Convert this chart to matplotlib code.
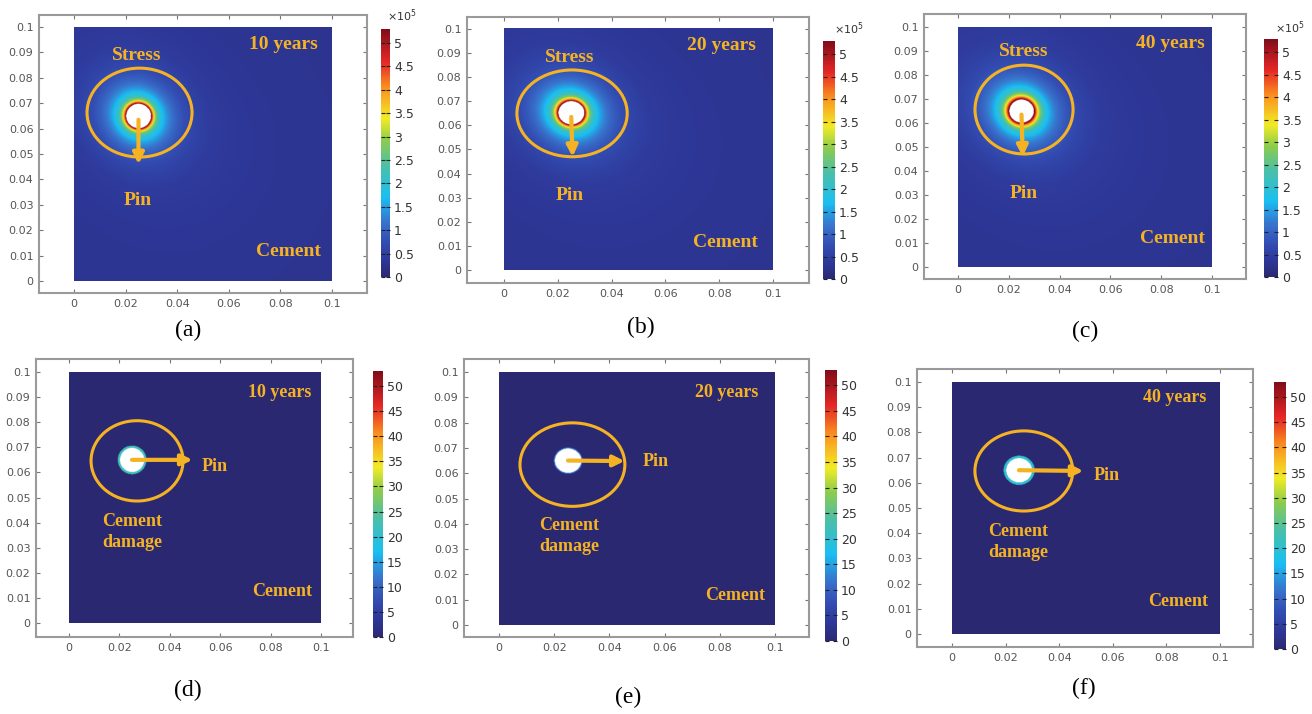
import numpy as np
import matplotlib
matplotlib.use("Agg")
import matplotlib.pyplot as plt
from matplotlib.colors import LinearSegmentedColormap
from matplotlib.patches import Ellipse

W, H = 1312, 714

# ---- data ----
years = ["10 years", "20 years", "40 years"]
tags = ["(a)", "(b)", "(c)", "(d)", "(e)", "(f)"]
pin_xy = (0.025, 0.065)
pin_r = 0.0048
ring_peak = [2.9, 2.9, 3.0]              # sharp ring at pin edge, x10^5
ring_decay = [0.0011, 0.0012, 0.0016]
halo_peak = [2.35, 2.35, 2.3]            # broader cyan halo, x10^5
halo_decay = [0.0065, 0.0068, 0.0072]
stress_glow = [0.45, 0.5, 0.55]          # far field glow, x10^5
stress_floor = 0.3
stress_vmax = 5.3
damage_ring = [22, 12, 20]
damage_width = [0.0009, 0.0004, 0.0010]
damage_vmax = 53
xticks = [0, 0.02, 0.04, 0.06, 0.08, 0.1]
yticks = [0, 0.01, 0.02, 0.03, 0.04, 0.05, 0.06, 0.07, 0.08, 0.09, 0.1]
stress_cticks = [0, 0.5, 1, 1.5, 2, 2.5, 3, 3.5, 4, 4.5, 5]
damage_cticks = [0, 5, 10, 15, 20, 25, 30, 35, 40, 45, 50]

# ---- layout in pixels ----
# frame (l, t, r, b), data box (x0, x1, ytop, ybottom), colorbar (l, t, r, b)
P = [
    dict(frame=(39, 15, 367, 293), data=(74, 332, 27, 281), cbar=(381, 29, 390, 277), tag=(188, 330), exp=(402, 16)),
    dict(frame=(467, 17, 809, 283), data=(504, 773, 29, 270), cbar=(823, 41, 835, 279), tag=(641, 327), exp=(849, 29)),
    dict(frame=(924, 14, 1246, 279), data=(958, 1212, 27, 267), cbar=(1264, 39, 1278, 277), tag=(1085, 331), exp=(1290, 28)),
    dict(frame=(36, 359, 353, 637), data=(69, 321, 372, 623), cbar=(373, 371, 383, 637), tag=(188, 690)),
    dict(frame=(464, 359, 809, 637), data=(499, 775, 372, 625), cbar=(825, 370, 837, 641), tag=(628, 697)),
    dict(frame=(917, 369, 1253, 647), data=(952, 1220, 382, 634), cbar=(1274, 382, 1286, 649), tag=(1084, 688)),
]

# annotations in data coords
year_pos = [(0.081, 0.093), (0.081, 0.093), (0.0835, 0.0933), (0.0837, 0.092), (0.0826, 0.0917), (0.0832, 0.0937)]
cement_pos = [(0.083, 0.0118), (0.0825, 0.0116), (0.0843, 0.012), (0.0845, 0.0127), (0.0855, 0.0115), (0.0843, 0.0127)]
stress_pos = [(0.0244, 0.0886), (0.0245, 0.088), (0.026, 0.090)]
pin_pos = [(0.0248, 0.0315), (0.0245, 0.031), (0.026, 0.0308), (0.058, 0.0625), (0.0569, 0.0648), (0.0578, 0.0627)]
damage_pos = [(0.025, 0.0362), (0.0254, 0.035), (0.0246, 0.0365)]
ell = [(0.0254, 0.0663, 0.0407, 0.035), (0.0253, 0.065, 0.041, 0.036), (0.026, 0.0656, 0.0386, 0.037),
       (0.027, 0.0646, 0.0365, 0.032), (0.0266, 0.0634, 0.038, 0.033), (0.0268, 0.0647, 0.0365, 0.0318)]
arrow_tip = [(0.025, 0.046), (0.0255, 0.047), (0.0255, 0.046), (0.049, 0.065), (0.0455, 0.0648), (0.049, 0.0647)]

orange = "#F5B323"
cmap = LinearSegmentedColormap.from_list("comsol", [
    (0.00, (0.17, 0.16, 0.45)),
    (0.07, (0.18, 0.22, 0.60)),
    (0.14, (0.20, 0.30, 0.70)),
    (0.22, (0.22, 0.45, 0.80)),
    (0.32, (0.10, 0.75, 0.95)),
    (0.45, (0.30, 0.75, 0.65)),
    (0.55, (0.55, 0.80, 0.30)),
    (0.64, (0.95, 0.92, 0.15)),
    (0.76, (0.98, 0.58, 0.12)),
    (0.87, (0.90, 0.15, 0.15)),
    (1.00, (0.50, 0.05, 0.10))])
cmap.set_bad("white")

n = 500
g = np.linspace(0, 0.1, n)
X, Y = np.meshgrid(g, g)
R = np.hypot(X - pin_xy[0], Y - pin_xy[1])
TH = np.arctan2(Y - pin_xy[1], X - pin_xy[0])
D = np.clip(R - pin_r, 0, None)

fig = plt.figure(figsize=(W / 100, H / 100), dpi=100)


def fr(box):
    l, t, r, b = box
    return [l / W, 1 - b / H, (r - l) / W, (b - t) / H]


for i, p in enumerate(P):
    fl, ft, frr, fb = p["frame"]
    x0, x1, yt, yb = p["data"]
    sx = (x1 - x0) / 0.1
    sy = (yb - yt) / 0.1
    ax = fig.add_axes(fr(p["frame"]))

    if i < 3:
        k = i
        F = ring_peak[k] * np.exp(-D / ring_decay[k]) + halo_peak[k] * np.exp(-D / halo_decay[k])
        lobe = 0.7 + 0.3 * np.cos(2 * (TH - 3 * np.pi / 4))
        F = F + stress_glow[k] * np.exp(-R / 0.022) * lobe + stress_floor
        vmax = stress_vmax
    else:
        k = i - 3
        F = np.where(R < pin_r + damage_width[k], damage_ring[k], 0.0)
        vmax = damage_vmax
    F = np.ma.masked_where(R < pin_r, F)
    im = ax.imshow(F, origin="lower", extent=[0, 0.1, 0, 0.1], cmap=cmap, aspect="auto",
                   vmin=0, vmax=vmax, interpolation="bilinear", zorder=1)
    ax.set_xlim(-(x0 - fl) / sx, 0.1 + (frr - x1) / sx)
    ax.set_ylim(-(fb - yb) / sy, 0.1 + (yt - ft) / sy)

    for s in ax.spines.values():
        s.set_color("#9a9a9a")
        s.set_linewidth(1.5)
    ax.set_xticks(xticks)
    ax.set_yticks(yticks)
    ax.set_xticklabels([f"{v:g}" for v in xticks])
    ax.set_yticklabels([f"{v:g}" for v in yticks])
    ax.tick_params(direction="in", top=True, right=True, length=3, color="#777777",
                   labelsize=8, labelcolor="#555555", pad=4)

    # labels
    tkw = dict(color=orange, fontweight="bold", family="Liberation Serif",
               ha="center", va="center", zorder=5)
    fs = 14 if i < 3 else 13
    ax.text(*year_pos[i], years[i % 3], fontsize=fs, **tkw)
    ax.text(*cement_pos[i], "Cement", fontsize=fs, **tkw)
    ax.text(*pin_pos[i], "Pin", fontsize=fs, **tkw)
    if i < 3:
        ax.text(*stress_pos[i], "Stress", fontsize=fs, **tkw)
    else:
        ax.text(*damage_pos[i - 3], "Cement\ndamage", fontsize=fs, linespacing=1.3, **tkw)

    ex, ey, ew, eh = ell[i]
    ax.add_patch(Ellipse((ex, ey), ew, eh, fill=False, ec=orange, lw=2.2, zorder=4))
    start = (pin_xy[0], 0.0635) if i < 3 else pin_xy
    ax.annotate("", xy=arrow_tip[i], xytext=start,
                arrowprops=dict(arrowstyle="-|>", color=orange, lw=3, mutation_scale=16,
                                shrinkA=0, shrinkB=0), zorder=6)

    cax = fig.add_axes(fr(p["cbar"]))
    cb = fig.colorbar(im, cax=cax, ticks=stress_cticks if i < 3 else damage_cticks)
    cb.outline.set_visible(False)
    cb.ax.set_yticklabels([f"{v:g}" for v in (stress_cticks if i < 3 else damage_cticks)])
    cb.ax.tick_params(direction="in", length=3, color="#222222", labelsize=9,
                      labelcolor="#333333", left=True, right=True, pad=3)
    if i < 3:
        fig.text(p["exp"][0] / W, 1 - p["exp"][1] / H, r"$\times10^5$", fontsize=8,
                 color="#333333", ha="center", va="center")

    fig.text(p["tag"][0] / W, 1 - p["tag"][1] / H, tags[i], fontsize=17,
             family="Liberation Serif", ha="center", va="center")

fig.savefig("out.png", dpi=100)
